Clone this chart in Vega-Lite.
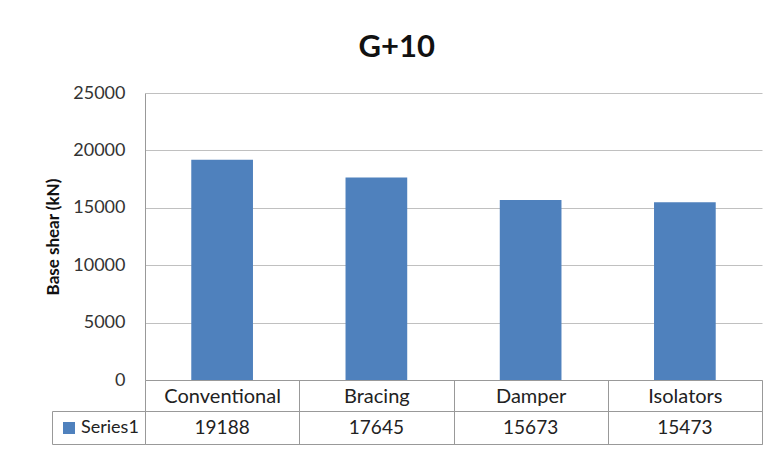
{
  "$schema": "https://vega.github.io/schema/vega-lite/v6.json",
  "autosize": {"type": "pad"},
  "padding": {"left": 44, "top": 32, "right": 7, "bottom": 5},
  "background": "white",
  "config": {
    "font": "Lato",
    "view": {"stroke": null},
    "legend": {"padding": 0}
  },
  "title": {
    "text": "G+10",
    "font": "Lato",
    "fontSize": 31,
    "fontWeight": "bold",
    "color": "#111111",
    "anchor": "middle",
    "dx": -7,
    "offset": 20
  },
  "data": {
    "values": [
      {"category": "Conventional", "value": 19188, "series": "Series1"},
      {"category": "Bracing", "value": 17645, "series": "Series1"},
      {"category": "Damper", "value": 15673, "series": "Series1"},
      {"category": "Isolators", "value": 15473, "series": "Series1"}
    ]
  },
  "vconcat": [
    {
      "width": 617,
      "height": 287,
      "mark": {"type": "bar", "width": {"band": 0.4}},
      "encoding": {
        "x": {
          "field": "category",
          "type": "nominal",
          "sort": null,
          "scale": {"paddingInner": 0, "paddingOuter": 0},
          "axis": {
            "title": null,
            "orient": "bottom",
            "labelAngle": 0,
            "labelFont": "Lato",
            "labelFontSize": 20,
            "labelColor": "#222222",
            "labelPadding": -25,
            "ticks": true,
            "tickBand": "extent",
            "tickSize": 31,
            "tickColor": "#999999",
            "domainColor": "#999999",
            "grid": false
          }
        },
        "y": {
          "field": "value",
          "type": "quantitative",
          "scale": {"domain": [0, 25000]},
          "axis": {
            "title": "Base shear (kN)",
            "titleFont": "Lato",
            "titleFontSize": 17,
            "titleFontWeight": "bold",
            "titleColor": "#111111",
            "titlePadding": 10,
            "values": [0, 5000, 10000, 15000, 20000, 25000],
            "format": "d",
            "labelFont": "Lato",
            "labelFontSize": 18,
            "labelColor": "#333333",
            "labelPadding": 20,
            "ticks": false,
            "domainColor": "#999999",
            "gridColor": "#c0c0c0"
          }
        },
        "color": {
          "field": "series",
          "type": "nominal",
          "scale": {"range": ["#4f81bd"]},
          "legend": {
            "title": null,
            "orient": "none",
            "legendX": -85,
            "legendY": 326,
            "symbolType": "square",
            "symbolSize": 144,
            "symbolStrokeWidth": 0,
            "labelFont": "Lato",
            "labelFontSize": 18,
            "labelColor": "#222222",
            "labelOffset": 3
          }
        }
      }
    },
    {
      "width": 617,
      "height": 33,
      "view": {"stroke": "#999999"},
      "mark": {"type": "text", "font": "Lato", "fontSize": 19, "color": "#222222"},
      "encoding": {
        "x": {
          "field": "category",
          "type": "nominal",
          "sort": null,
          "scale": {"paddingInner": 0, "paddingOuter": 0},
          "axis": {
            "title": null,
            "labels": false,
            "ticks": false,
            "domain": false,
            "grid": true,
            "tickBand": "extent",
            "gridColor": "#999999"
          }
        },
        "y": {
          "field": "series",
          "type": "nominal",
          "scale": {"paddingInner": 0, "paddingOuter": 0},
          "axis": {
            "title": null,
            "labels": false,
            "offset": 93,
            "domain": true,
            "domainColor": "#999999",
            "ticks": true,
            "tickBand": "extent",
            "tickSize": -93,
            "tickColor": "#999999",
            "grid": false
          }
        },
        "text": {"field": "value", "type": "quantitative", "format": "d"}
      }
    }
  ],
  "bounds": "flush",
  "spacing": 31,
  "resolve": {"scale": {"x": "independent", "y": "independent", "color": "independent"}, "legend": {"color": "independent"}}
}
